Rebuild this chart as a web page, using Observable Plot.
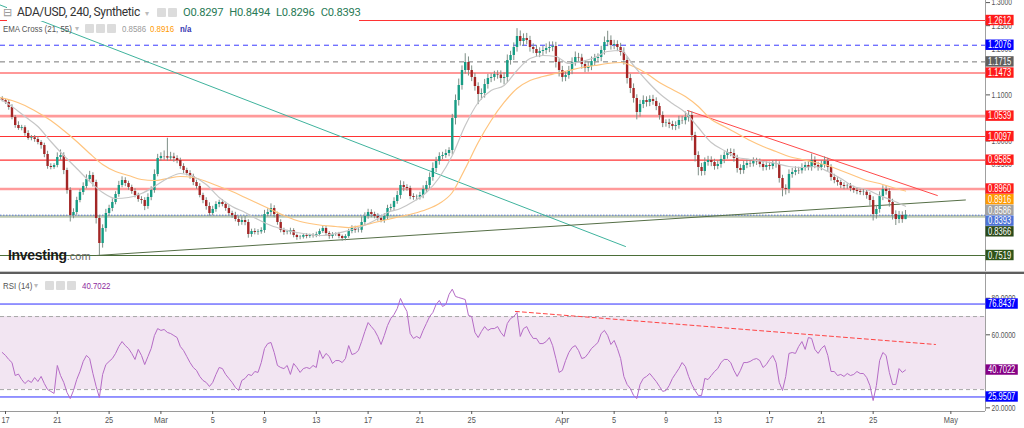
<!DOCTYPE html>
<html><head><meta charset="utf-8">
<script src="https://cdn.jsdelivr.net/npm/d3@7"></script>
<script src="https://cdn.jsdelivr.net/npm/@observablehq/plot@0.6"></script>
<style>
body{margin:0;background:#fff;}
#wrap{position:relative;width:1024px;height:428px;overflow:hidden;background:#fff;font-family:Roboto,"Open Sans",sans-serif;}
#wrap svg{position:absolute;left:0;overflow:visible;}
.abs{position:absolute;white-space:nowrap;}
.nar{font-family:"Liberation Sans",Arial,sans-serif;font-size:9.5px;line-height:11px;color:#555;transform:scaleX(0.83);transform-origin:left top;}
.ib{position:absolute;width:9px;height:9px;background:#dcdcdc;border-radius:1px;}
.car{position:absolute;color:#bbb;font-size:8px;line-height:11px;}
</style></head><body><div id="wrap"></div>
<script>
// ---------- DATA ----------
const candleStart = "2021-02-16T18:00:00Z";
const candleHours = 6;
const firstOpen = 1.0920;
const closes = [
1.0878,1.0835,1.0727,1.0510,1.0336,1.0271,1.0290,1.0163,1.0055,1.0070,
1.0033,0.9968,0.9903,0.9708,0.9448,0.9426,0.9470,0.9643,0.9686,0.9361,
0.8928,0.8385,0.8451,0.8711,0.8884,0.9014,0.9166,0.9253,0.9101,0.8321,
0.7779,0.8104,0.8429,0.8538,0.8668,0.8841,0.9036,0.9144,0.9079,0.8993,
0.8906,0.8819,0.8733,0.8711,0.8581,0.8776,0.8928,0.9274,0.9621,0.9665,
0.9660,0.9630,0.9655,0.9620,0.9578,0.9448,0.9361,0.9296,0.9231,0.9101,
0.9014,0.8819,0.8711,0.8581,0.8429,0.8516,0.8624,0.8668,0.8624,0.8538,
0.8429,0.8385,0.8299,0.8234,0.8277,0.8234,0.7974,0.8039,0.8017,0.8030,
0.8060,0.8407,0.8451,0.8538,0.8407,0.8234,0.8060,0.8017,0.8025,0.8060,
0.7952,0.7909,0.7915,0.7952,0.7931,0.7952,0.7945,0.7974,0.8039,0.8104,
0.7995,0.7931,0.7974,0.7980,0.7931,0.7887,0.7931,0.8039,0.8104,0.8060,
0.8065,0.8234,0.8364,0.8451,0.8407,0.8364,0.8321,0.8277,0.8364,0.8538,
0.8559,0.8689,0.8819,0.9036,0.8993,0.8971,0.8798,0.8776,0.8780,0.8819,
0.8949,0.9036,0.9209,0.9405,0.9556,0.9665,0.9686,0.9730,0.9795,1.0488,
1.0878,1.1203,1.1528,1.1702,1.1528,1.1377,1.1181,1.1008,1.1030,1.1225,
1.1355,1.1377,1.1442,1.1430,1.1355,1.1377,1.1745,1.1854,1.2027,1.2265,
1.2157,1.2222,1.2179,1.2027,1.1984,1.1897,1.1940,1.1962,1.2005,1.2027,
1.2049,1.1702,1.1528,1.1377,1.1420,1.1528,1.1702,1.1810,1.1800,1.1658,
1.1572,1.1615,1.1723,1.1788,1.1810,1.1962,1.2135,1.2179,1.2070,1.2092,
1.2027,1.1919,1.1745,1.1355,1.1138,1.0922,1.0618,1.0792,1.0878,1.0835,
1.0900,1.0856,1.0748,1.0553,1.0380,1.0390,1.0358,1.0315,1.0336,1.0445,
1.0440,1.0510,1.0553,1.0120,0.9686,0.9426,0.9339,0.9534,0.9578,0.9534,
0.9448,0.9491,0.9600,0.9686,0.9751,0.9730,0.9621,0.9405,0.9361,0.9470,
0.9513,0.9505,0.9556,0.9550,0.9491,0.9426,0.9470,0.9448,0.9513,0.9491,
0.9188,0.8971,0.8949,0.9274,0.9318,0.9361,0.9355,0.9426,0.9470,0.9426,
0.9578,0.9470,0.9426,0.9491,0.9556,0.9426,0.9209,0.9144,0.9101,0.9036,
0.9014,0.9020,0.8971,0.8928,0.8906,0.8884,0.8890,0.8819,0.8711,0.8407,
0.8516,0.8798,0.8949,0.8906,0.8668,0.8407,0.8299,0.8385,0.8297,0.8393];
// wick lengths beyond the body, in thousandths of a dollar
const wickUp = [
4,3,5,6,4,8,5,4,6,5, 5,6,4,5,7,6,4,10,12,6, 5,6,8,7,6,8,10,9,6,5, 6,8,9,7,8,6,9,8,6,5,
5,6,5,6,6,8,8,10,9,8, 12,40,10,8,6,5,6,5,6,5, 5,6,5,6,8,7,6,5,6,5, 6,5,7,6,8,9,6,5,6,5,
6,9,8,10,6,5,6,5,4,5, 4,3,4,3,4,3,4,5,5,6, 5,4,4,3,4,3,4,5,6,5, 6,12,8,7,6,5,6,5,6,7,
7,8,9,10,8,6,5,6,5,7, 8,9,10,12,9,8,7,8,6,9, 12,14,10,19,12,10,9,8,10,11, 9,8,7,8,9,10,12,9,10,17,
12,10,11,9,8,9,8,9,10,12, 10,9,8,9,8,9,10,12,9,8, 8,9,10,9,8,9,12,20,10,9, 8,9,10,8,9,10,8,9,10,8,
8,9,8,7,8,7,8,7,8,9, 9,12,10,8,7,8,9,10,9,8, 7,8,9,8,7,8,9,7,8,9, 8,7,8,7,6,7,8,7,6,7,
6,7,8,10,9,8,7,8,7,8, 14,8,7,8,10,7,6,7,6,5, 6,5,6,5,6,5,6,5,6,8, 9,10,8,7,6,7,8,9,8,10.1];
const wickDown = [
3,4,6,5,6,4,5,6,4,5, 6,5,8,7,6,5,4,5,6,9, 8,14,7,6,5,6,5,6,10,12, 26,10,8,6,7,5,6,5,7,6,
6,5,6,8,9,6,7,6,5,6, 8,7,6,8,7,6,7,5,6,7, 6,5,7,8,6,5,6,7,5,6, 5,6,5,8,6,7,8,6,5,6,
5,6,5,6,7,6,5,6,5,6, 5,6,5,4,5,4,5,4,5,4, 5,6,5,4,5,6,5,4,5,6, 5,6,7,6,7,5,6,5,6,7,
6,7,6,8,9,6,7,6,7,6, 7,8,9,8,9,8,7,6,7,10, 14,12,10,8,12,9,10,22,12,10, 10,9,8,9,10,14,12,10,11,10,
10,11,9,10,9,8,9,10,8,9, 9,12,14,10,9,8,9,8,9,10, 9,8,9,10,8,9,10,9,10,9, 9,8,10,12,11,10,16,10,9,10,
9,8,9,10,9,8,9,8,9,8, 8,9,10,12,14,18,10,9,8,9, 8,7,8,9,8,7,8,10,9,8, 7,8,7,8,7,8,7,8,7,8,
10,18,12,9,8,7,8,7,8,7, 8,7,8,7,8,9,8,7,8,7, 7,6,7,6,7,6,7,8,12,14, 10,8,9,8,10,12,13,9,8,0.1];
const rsi = [
50.3,48.7,46.5,44.8,37.7,38.5,35.5,33.3,35.0,33.9, 36.6,34.4,37.2,33.3,30.0,29.0,27.9,43.2,37.7,33.9,
28.4,25.1,29.5,35.5,39.9,45.4,48.7,47.0,38.8,31.7, 25.7,38.3,43.7,45.4,47.0,49.8,53.6,56.3,54.1,52.5,
49.8,46.5,52.0,48.7,43.7,48.1,52.5,59.6,63.4,62.4, 62.9,61.3,60.7,59.6,58.5,53.6,51.4,48.1,44.8,42.1,
40.5,37.2,35.0,33.9,31.7,33.9,38.3,42.1,41.5,38.3, 36.1,33.9,31.2,29.5,35.0,36.1,38.3,37.7,39.9,39.4,
44.8,52.5,55.2,55.8,50.3,43.2,42.1,41.5,43.2,38.3, 44.3,42.1,39.4,41.5,42.1,41.5,43.2,42.1,51.4,47.0,
49.8,48.1,44.3,45.9,45.9,44.8,47.0,54.1,49.2,49.8, 51.4,56.3,61.8,66.7,64.5,62.4,59.1,54.7,59.6,65.1,
68.9,71.1,74.4,79.9,76.0,72.8,60.7,58.0,59.1,58.0, 62.4,66.2,70.0,72.2,76.6,78.8,75.5,76.6,82.1,85.0,
81.0,80.4,79.9,79.3,70.6,70.0,61.3,58.5,61.8,64.5, 62.4,63.4,63.4,64.5,61.3,59.1,66.2,68.9,70.0,72.2,
59.1,63.4,64.5,60.7,58.0,58.0,55.2,55.2,56.3,58.5, 54.1,47.0,39.4,40.5,45.9,50.3,53.0,54.1,51.4,47.0,
47.6,49.8,52.5,54.1,55.8,60.7,62.4,59.6,54.7,56.9, 52.5,47.0,37.2,32.8,30.6,26.8,25.1,32.8,36.1,37.2,
38.8,36.6,34.4,31.7,29.0,29.5,32.2,36.1,38.8,41.5, 44.8,42.6,37.2,32.8,29.5,26.8,26.8,36.1,35.5,37.7,
39.9,41.5,44.8,46.5,46.5,44.8,40.5,37.2,40.5,44.8, 44.8,45.4,46.5,47.0,45.9,42.1,43.7,46.5,48.7,44.8,
33.9,29.5,37.2,49.8,50.3,49.8,53.6,56.3,52.0,58.5, 58.0,52.0,49.8,52.5,54.1,48.7,39.9,39.9,37.7,38.3,
37.2,38.8,37.7,38.3,39.9,38.8,38.8,36.6,32.2,24.0, 32.2,45.9,50.3,48.7,39.4,32.8,32.8,41.5,39.4,40.7022];
const emaStart = "2021-02-16T12:00:00Z";
const emaStepHours = 24;
const ema21 = [
1.0922,1.0748,1.0531,1.0315,0.9990,0.9686,0.9405,0.9123,0.8884,0.8754,
0.8776,0.8863,0.9014,0.9188,0.9296,0.9231,0.9058,0.8776,0.8581,0.8451,
0.8299,0.8169,0.8082,0.8017,0.7974,0.7952,0.7995,0.8060,0.8147,0.8277,
0.8451,0.8538,0.8689,0.8884,0.9209,0.9686,1.0336,1.0835,1.1095,1.1203,
1.1528,1.1788,1.1854,1.1832,1.1680,1.1723,1.1810,1.1940,1.1962,1.1637,
1.1312,1.1030,1.0813,1.0618,1.0293,0.9968,0.9795,0.9643,0.9600,0.9556,
0.9513,0.9448,0.9426,0.9448,0.9339,0.9188,0.9014,0.8949,0.8819,0.8711,0.8586];
const ema55 = [
1.0943,1.0878,1.0770,1.0618,1.0445,1.0228,0.9990,0.9730,0.9491,0.9339,
0.9253,0.9166,0.9144,0.9188,0.9231,0.9209,0.9123,0.9014,0.8906,0.8776,
0.8646,0.8516,0.8385,0.8277,0.8212,0.8169,0.8147,0.8125,0.8169,0.8234,
0.8299,0.8364,0.8429,0.8516,0.8646,0.8884,0.9405,0.9968,1.0445,1.0835,
1.1138,1.1312,1.1398,1.1464,1.1528,1.1594,1.1637,1.1680,1.1702,1.1615,
1.1464,1.1268,1.1117,1.0965,1.0748,1.0466,1.0315,1.0163,1.0012,0.9881,
0.9773,0.9665,0.9600,0.9534,0.9470,0.9361,0.9253,0.9144,0.9079,0.8993,0.8916];
const redLevels = [1.2612, 1.1473, 1.0097, 0.9585];
const pinkLevels = [1.0539, 0.8960];
const blueDashLevel = 1.2076;
const grayDashLevel = 1.1715;
const greenBand = 0.8366;
const greenLevel = 0.7519;
const tealLine = [["2021-02-16T12:00:00Z",1.2957],["2021-04-05T21:00:00Z",0.7714]];
const supportLine = [["2021-02-24T00:00:00Z",0.7519],["2021-05-02T03:00:00Z",0.8722]];
const resistLine = [["2021-04-10T16:00:00Z",1.0661],["2021-04-29T23:00:00Z",0.8819]];
const crosses = [["2021-03-01T14:00:00Z",0.9209],["2021-03-03T23:30:00Z",0.9209],["2021-03-17T08:00:00Z",0.8169],["2021-04-06T17:30:00Z",1.1528]];
const rsiBand = [30, 70];
const rsiLevels = [76.8437, 25.9507];
const rsiTrend = [["2021-03-28T09:00:00Z",72.8],["2021-04-29T19:30:00Z",54.7]];
const priceTicks = [0.75,0.80,0.85,0.90,0.95,1.00,1.05,1.10,1.15,1.20,1.25,1.30];
const rsiTicks = [20,40,60,80];
const xTickDates = ["2021-02-17","2021-02-21","2021-02-25","2021-03-01","2021-03-05","2021-03-09","2021-03-13","2021-03-17","2021-03-21","2021-03-25","2021-04-01","2021-04-05","2021-04-09","2021-04-13","2021-04-17","2021-04-21","2021-04-25","2021-05-01"];
const xTickLabels = ["17","21","25","Mar","5","9","13","17","21","25","Apr","5","9","13","17","21","25","May"];
const xDomain = [new Date("2021-02-16T14:44:00Z"), new Date("2021-05-03T16:13:00Z")];
const yDomain = [0.71722, 1.30455];
const rsiDomain = [18.0, 93.02];

// ---------- BUILD ----------
const H = 3600e3;
const t0 = new Date(candleStart).getTime();
const candles = closes.map((c, i) => {
  const o = i === 0 ? firstOpen : closes[i - 1];
  return {t: new Date(t0 + i * candleHours * H), o, c,
    h: Math.max(o, c) + wickUp[i] / 1000, l: Math.min(o, c) - wickDown[i] / 1000, up: c >= o};
});
const e0 = new Date(emaStart).getTime();
const emaSeries = (arr) => arr.map((v, k) => ({t: new Date(e0 + k * emaStepHours * H), v}));
const rsiSeries = rsi.map((v, i) => ({t: candles[i].t, v}));
const seg = (a) => a.map(d => ({t: new Date(d[0]), v: d[1]}));
const last = candles[candles.length - 1];
const NARROW = '"Liberation Sans Narrow","Arial Narrow","Liberation Sans",sans-serif';
const UP = "#169c84", DOWN = "#a32626", WICK = "#7f8f87";
const MAIN_H = 271, RSI_H = 154, RSI_MB = 17;
const numWidth = (s, digit) => s.replace(/[^0-9]/g, "").length * digit + (s.length - s.replace(/[^0-9]/g, "").length) * digit * 0.5;

function stackBoxes(items, scale) {
  const pts = items.map(d => ({...d, y: scale.apply(d.v)})).sort((a, b) => a.y - b.y);
  for (let i = 1; i < pts.length; i++) if (pts[i].y < pts[i - 1].y + 10.7) pts[i].y = pts[i - 1].y + 10.7;
  return pts;
}
const yMainScale = Plot.scale({y: {domain: yDomain, range: [MAIN_H, 0]}});
const yRsiScale = Plot.scale({y: {domain: rsiDomain, range: [RSI_H - RSI_MB, 0]}});
const mainBoxes = stackBoxes([
  ...redLevels.map(v => ({v, bg: "#ff1a1a"})),
  ...pinkLevels.map(v => ({v, bg: "#ff1a1a"})),
  {v: blueDashLevel, bg: "#0000ff"},
  {v: grayDashLevel, bg: "#5f5f5f"},
  {v: ema55[ema55.length - 1], bg: "#ff9a00"},
  {v: ema21[ema21.length - 1], bg: "#a3a3a3"},
  {v: last.c, bg: "#4d73d6"},
  {v: greenBand, bg: "#2a4a1a"},
  {v: greenLevel, bg: "#2f5419"}
], yMainScale);
const rsiBoxes = stackBoxes([
  {v: rsiLevels[0], bg: "#0000ff"},
  {v: rsi[rsi.length - 1], bg: "#850085"},
  {v: rsiLevels[1], bg: "#0000ff"}
], yRsiScale);
const shownTicks = (ticks, scale, boxes) => ticks.filter(t => !boxes.some(b => Math.abs(b.y - scale.apply(t)) < 3));

const main = Plot.plot({
  width: 1024, height: MAIN_H, marginLeft: 0, marginRight: 39, marginTop: 0, marginBottom: 0,
  x: {type: "utc", domain: xDomain, axis: null},
  y: {domain: yDomain, axis: null},
  style: {background: "transparent", fontFamily: NARROW},
  marks: [
    Plot.ruleY(redLevels, {stroke: "#ff3333", strokeWidth: 1.1}),
    Plot.ruleY(pinkLevels, {stroke: "#ff9a9a", strokeWidth: 2.6}),
    Plot.ruleY([blueDashLevel], {stroke: "#3b3bff", strokeDasharray: "5,4"}),
    Plot.ruleY([grayDashLevel], {stroke: "#777", strokeDasharray: "5,4"}),
    Plot.ruleY([greenBand], {stroke: "#bdc8b3", strokeWidth: 2.6}),
    Plot.ruleY([greenLevel], {stroke: "#4b6e38", strokeWidth: 1.2}),
    Plot.ruleY([last.c], {stroke: "#5a78d4", strokeDasharray: "1.5,1.5"}),
    Plot.line(seg(tealLine), {x: "t", y: "v", stroke: "#3fb39d", strokeWidth: 1, clip: true}),
    Plot.line(seg(supportLine), {x: "t", y: "v", stroke: "#566f47", strokeWidth: 1, clip: true}),
    Plot.line(seg(resistLine), {x: "t", y: "v", stroke: "#ff4a4a", strokeWidth: 1, clip: true}),
    Plot.ruleX(candles, {x: "t", y1: "l", y2: "h", stroke: WICK, strokeWidth: 1}),
    Plot.ruleX(candles, {filter: d => d.up, x: "t", y1: "o", y2: "c", stroke: UP, strokeWidth: 2.4}),
    Plot.ruleX(candles, {filter: d => !d.up, x: "t", y1: "o", y2: "c", stroke: DOWN, strokeWidth: 2.4}),
    Plot.line(emaSeries(ema55), {x: "t", y: "v", stroke: "#ffc47e", strokeWidth: 1.2, curve: "monotone-x", clip: true}),
    Plot.line(emaSeries(ema21), {x: "t", y: "v", stroke: "#c6c6c6", strokeWidth: 1.2, curve: "monotone-x", clip: true}),
    Plot.dot(seg(crosses), {x: "t", y: "v", symbol: "plus", r: 4.5, fill: "#5a55b8", stroke: "none"}),
    Plot.ruleX([xDomain[1]], {stroke: "#a0a0a0"}),
    Plot.axisY(shownTicks(priceTicks, yMainScale, mainBoxes), {anchor: "right", tickFormat: d => d.toFixed(4), tickSize: 4, tickPadding: 2, fontSize: 9, color: "#555", label: null})
  ]
});

const rsiPlot = Plot.plot({
  width: 1024, height: RSI_H, marginLeft: 0, marginRight: 39, marginTop: 0, marginBottom: RSI_MB,
  x: {type: "utc", domain: xDomain, axis: null},
  y: {domain: rsiDomain, axis: null},
  style: {background: "transparent", fontFamily: NARROW},
  marks: [
    Plot.rect([rsiBand], {x1: () => xDomain[0], x2: () => xDomain[1], y1: d => d[0], y2: d => d[1], fill: "#f2e5f2"}),
    Plot.ruleY(rsiBand, {stroke: "#a8a8a8", strokeDasharray: "4,3"}),
    Plot.ruleY(rsiLevels, {stroke: "#2c2cff", strokeWidth: 1}),
    Plot.line(rsiSeries, {x: "t", y: "v", stroke: "#b56cc6", strokeWidth: 1, clip: true}),
    Plot.line(seg(rsiTrend), {x: "t", y: "v", stroke: "#ff4444", strokeDasharray: "4,3", strokeWidth: 1}),
    Plot.ruleY([rsiDomain[0]], {stroke: "#9a9a9a"}),
    Plot.ruleX([xDomain[1]], {stroke: "#a0a0a0"}),
    Plot.axisY(shownTicks(rsiTicks, yRsiScale, rsiBoxes), {anchor: "right", tickFormat: d => d.toFixed(4), tickSize: 4, tickPadding: 2, fontSize: 9, color: "#555", label: null}),
    Plot.axisX(xTickDates.map(d => new Date(d + "T00:00:00Z")), {anchor: "bottom", tickSize: 3, tickPadding: 2, fontSize: 9, color: "#555", label: null,
      tickFormat: d => xTickLabels[xTickDates.indexOf(d.toISOString().slice(0, 10))]})
  ]
});

const wrap = document.getElementById("wrap");
main.style.top = "0px";
rsiPlot.style.top = "274px";
wrap.appendChild(main);
wrap.appendChild(rsiPlot);

for (const svg of [main, rsiPlot]) {
  d3.select(svg).selectAll("text").filter(function () { return /^\d+\.\d{4}$/.test(this.textContent); })
    .attr("textLength", function () { return numWidth(this.textContent, 3.7); })
    .attr("lengthAdjust", "spacingAndGlyphs");
  d3.select(svg).selectAll("text").filter(function () { return /^(\d{1,2}|[A-Z][a-z]+)$/.test(this.textContent); })
    .attr("textLength", function () { return /\d/.test(this.textContent) ? this.textContent.length * 4.1 : 14; })
    .attr("lengthAdjust", "spacingAndGlyphs");
}

function drawBoxes(svg, pts) {
  const g = d3.select(svg).append("g").attr("text-anchor", "start");
  for (const p of pts) {
    const s = p.v.toFixed(4), w = numWidth(s, 4.2);
    g.append("rect").attr("x", 985.5).attr("y", p.y - 5.2).attr("width", w + 5).attr("height", 10.4).attr("fill", p.bg);
    g.append("text").attr("x", 988).attr("y", p.y + 3.6).attr("fill", "#fff").attr("font-size", 10)
      .attr("text-anchor", "start").attr("font-family", NARROW)
      .attr("textLength", w).attr("lengthAdjust", "spacingAndGlyphs").text(s);
  }
}
drawBoxes(main, mainBoxes);
drawBoxes(rsiPlot, rsiBoxes);

wrap.insertAdjacentHTML("beforeend", `
<div class="abs" style="left:0;top:271px;width:1024px;height:1px;background:#c8c8c8;"></div>
<div class="abs" style="left:0;top:272px;width:1024px;height:2px;background:#5e5e5e;"></div>`);

// legends and logo
const f4 = v => v.toFixed(4);
wrap.insertAdjacentHTML("beforeend", `
<div class="abs" style="left:7px;top:4px;height:17px;width:352px;background:#fff;"></div>
<div class="abs" style="left:3px;top:6px;font-size:11px;line-height:14px;color:#999;">&#8863;</div>
<div class="abs" style="left:17px;top:5px;font-size:12px;letter-spacing:-0.35px;line-height:15px;color:#333;">ADA/USD, 240, Synthetic</div>
<div class="car" style="left:145px;top:8px;">&#9662;</div>
<div class="ib" style="left:157px;top:8px;"></div><div class="ib" style="left:168px;top:8px;"></div>
<div class="abs" style="left:183px;top:5px;font-size:11.2px;letter-spacing:-0.25px;line-height:15px;color:#2a7b57;">
  <span>O${f4(last.o)}</span><span style="margin-left:6px;">H${f4(last.h)}</span><span style="margin-left:6px;">L${f4(last.l)}</span><span style="margin-left:6px;">C${f4(last.c)}</span></div>
<div class="abs nar" style="left:3px;top:23px;">EMA Cross (21, 55)</div>
<div class="car" style="left:75px;top:23px;">&#9662;</div>
<div class="ib" style="left:85px;top:24px;"></div><div class="ib" style="left:96px;top:24px;"></div><div class="ib" style="left:107px;top:24px;"></div>
<div class="abs nar" style="left:122px;top:23px;color:#9a9a9a;">${f4(ema21[ema21.length - 1])}</div>
<div class="abs nar" style="left:150px;top:23px;color:#ff9a00;">${f4(ema55[ema55.length - 1])}</div>
<div class="abs nar" style="left:180px;top:23px;color:#3434b0;font-weight:bold;">n/a</div>
<div class="abs nar" style="left:3px;top:280px;">RSI (14)</div>
<div class="car" style="left:34px;top:280px;">&#9662;</div>
<div class="ib" style="left:45px;top:281px;"></div><div class="ib" style="left:56px;top:281px;"></div><div class="ib" style="left:67px;top:281px;"></div>
<div class="abs nar" style="left:82px;top:280px;color:#8e2a9e;">${f4(rsi[rsi.length - 1])}</div>
<div class="abs" style="left:8px;top:246px;font-family:'Liberation Sans',Arial,sans-serif;color:#1a1a1a;">
  <span style="font-size:14px;font-weight:bold;letter-spacing:-0.3px;">Investing</span><span style="font-size:11px;color:#666;">.com</span>
</div>
`);
</script></body></html>
